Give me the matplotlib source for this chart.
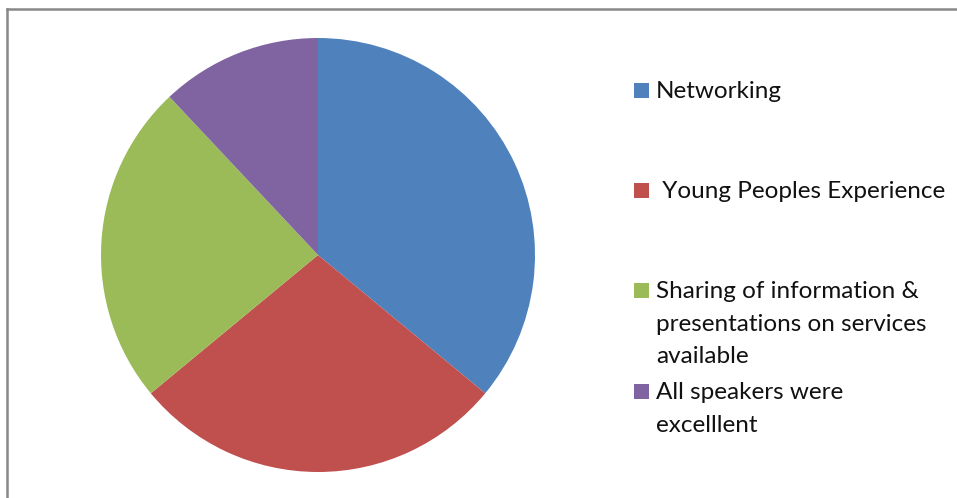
import matplotlib.pyplot as plt
from matplotlib.patches import Rectangle
from matplotlib.lines import Line2D

# data
labels = ['Networking', ' Young Peoples Experience',
          'Sharing of information &\npresentations on services\navailable',
          'All speakers were\nexcelllent']
values = [9, 7, 6, 3]
colors = ['#4F81BD', '#C0504D', '#9BBB59', '#8064A2']

W, H = 957, 498
fig = plt.figure(figsize=(W / 100, H / 100), dpi=100)

# pie
ax = fig.add_axes([101 / W, 26 / H, 434 / W, 434 / H])
ax.pie(values, colors=colors, startangle=90, counterclock=False,
       radius=1.0, wedgeprops={'linewidth': 0})
ax.set_xlim(-1, 1)
ax.set_ylim(-1, 1)
ax.set_aspect('equal')
ax.axis('off')

# legend drawn by hand (baseline of first line of each entry, px from top)
entry_y = [98, 198, 298, 399]
line_step = 32.5
for lab, col, y in zip(labels, colors, entry_y):
    fig.patches.append(Rectangle((634 / W, 1 - y / H), 15 / W, 15 / H,
                                 transform=fig.transFigure, facecolor=col,
                                 edgecolor='none'))
    for i, part in enumerate(lab.split('\n')):
        fig.text(656 / W, 1 - (y + i * line_step) / H, part, fontsize=17.5,
                 family='Lato', va='baseline', ha='left', color='#111111')

# outer frame (left and top edges)
fig.add_artist(Line2D([7.5 / W, 7.5 / W], [0, 1 - 9.5 / H], color='#888888',
                      lw=1.8, transform=fig.transFigure))
fig.add_artist(Line2D([7.5 / W, 1], [1 - 9.5 / H, 1 - 9.5 / H], color='#888888',
                      lw=1.8, transform=fig.transFigure))

fig.savefig('out.png', dpi=100)
